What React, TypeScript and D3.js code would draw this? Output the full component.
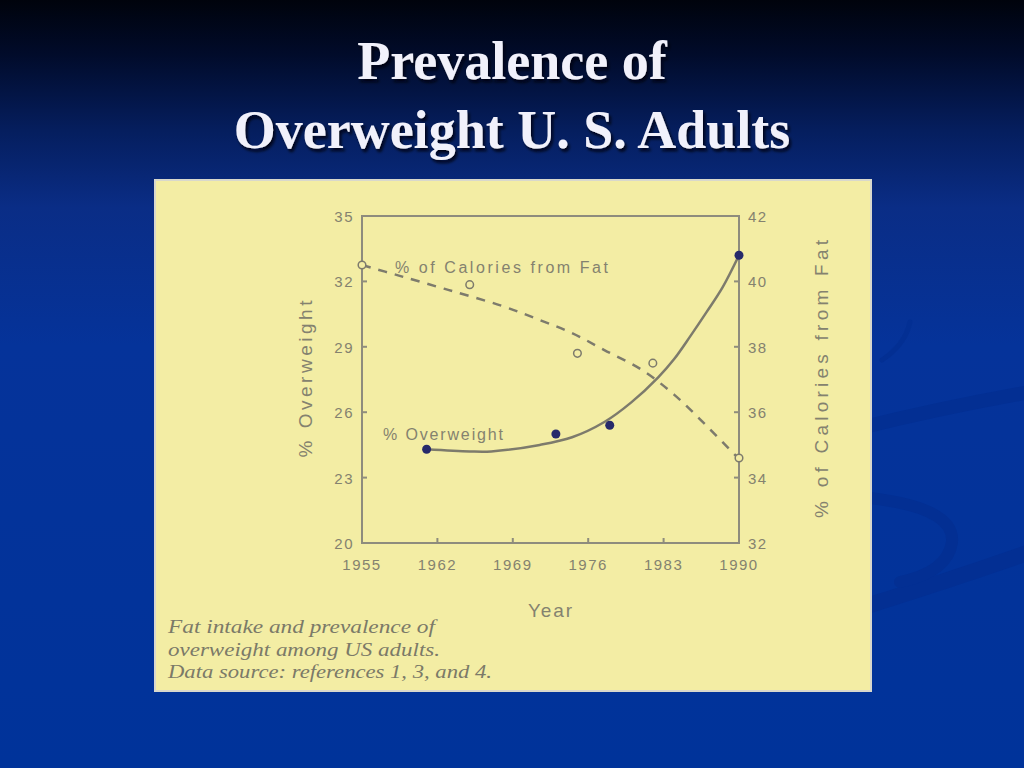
import * as d3 from 'd3';

// % overweight (filled dots, left axis)
const overweightYears = [1961, 1973, 1978, 1990];
const overweightPct = [24.3, 25.0, 25.4, 33.2];

// % of calories from fat (open circles, right axis)
const fatYears = [1955, 1965, 1975, 1982, 1990];
const fatPct = [40.5, 39.9, 37.8, 37.5, 34.6];

// smooth fitted curves
const overweightFitYears = [1961, 1965, 1967, 1971.5, 1974.5, 1977.5, 1980, 1982.5, 1984, 1985.5, 1987, 1988.5, 1990];
const overweightFitPct = [24.3, 24.2, 24.2, 24.5, 24.85, 25.55, 26.45, 27.6, 28.45, 29.5, 30.6, 31.75, 33.2];
const fatFitYears = [1955, 1958.5, 1963, 1968, 1971.5, 1974.5, 1977.5, 1981, 1984, 1987, 1990];
const fatFitPct = [40.5, 40.17, 39.74, 39.25, 38.82, 38.42, 37.9, 37.29, 36.53, 35.58, 34.57];

// ticks
const yearTicks = [1955, 1962, 1969, 1976, 1983, 1990];
const leftTicks = [20, 23, 26, 29, 32, 35];
const rightTicks = [32, 34, 36, 38, 40, 42];

const titleLines = ['Prevalence of', 'Overweight U. S. Adults'];
const captionLines = [
  'Fat intake and prevalence of',
  'overweight among US adults.',
  'Data source: references 1, 3, and 4.',
];

const INK = '#84826f';
const AXIS = '#8e8c7d';
const LINE = '#7d7b6c';
const DOT = '#262a6b';
const PAPER = '#f3eda4';
const SANS = 'Arial, "Liberation Sans", Helvetica, sans-serif';
const SERIF = '"Liberation Serif", "Times New Roman", serif';

export default function App() {
  const plot = { left: 362, right: 739, top: 216, bottom: 543 };

  const x = d3.scaleLinear().domain([1955, 1990]).range([plot.left, plot.right]);
  const yL = d3.scaleLinear().domain([20, 35]).range([plot.bottom, plot.top]);
  const yR = d3.scaleLinear().domain([32, 42]).range([plot.bottom, plot.top]);

  const owLine = d3
    .line<number>()
    .x((_, i) => x(overweightFitYears[i]))
    .y((d) => yL(d))
    .curve(d3.curveCatmullRom.alpha(0.5));
  const fatLine = d3
    .line<number>()
    .x((_, i) => x(fatFitYears[i]))
    .y((d) => yR(d))
    .curve(d3.curveCatmullRom.alpha(0.5));

  const tick = 5;

  return (
    <svg
      width={1024}
      height={768}
      style={{ position: 'absolute', left: 0, top: 0, display: 'block' }}
    >
      <defs>
        <linearGradient id="bg" x1="0" y1="0" x2="0" y2="1">
          <stop offset="0" stopColor="#00030c" />
          <stop offset="0.07" stopColor="#010b2a" />
          <stop offset="0.17" stopColor="#051e5e" />
          <stop offset="0.27" stopColor="#0a2d86" />
          <stop offset="0.45" stopColor="#05339a" />
          <stop offset="1" stopColor="#00339a" />
        </linearGradient>
        <filter id="shadow" x="-10%" y="-20%" width="130%" height="150%">
          <feDropShadow dx="2" dy="3" stdDeviation="1.5" floodColor="#000010" floodOpacity="0.9" />
        </filter>
      </defs>

      <rect width={1024} height={768} fill="url(#bg)" />

      {/* faint background swooshes */}
      <g fill="none" stroke="#032f93" strokeLinecap="round">
        <path d="M 860 428 Q 940 408 1030 392" strokeWidth={14} />
        <path d="M 860 608 Q 950 580 1030 552" strokeWidth={16} />
        <path d="M 870 498 Q 955 508 952 542 Q 948 572 900 582" strokeWidth={12} />
        <path d="M 882 360 Q 905 345 910 322" strokeWidth={5} />
      </g>

      {/* title */}
      <g
        fontFamily={SERIF}
        fontWeight="bold"
        fontSize={54}
        fill="#f1f1fb"
        textAnchor="middle"
        filter="url(#shadow)"
      >
        {titleLines.map((t, i) => (
          <text key={t} x={512} y={79 + i * 69}>
            {t}
          </text>
        ))}
      </g>

      {/* scanned figure panel */}
      <rect x={155} y={180} width={716} height={511} fill={PAPER} stroke="#d8d8cc" strokeWidth={2} />

      {/* plot frame */}
      <rect
        x={plot.left}
        y={plot.top}
        width={plot.right - plot.left}
        height={plot.bottom - plot.top}
        fill="none"
        stroke={AXIS}
        strokeWidth={2}
      />

      {/* ticks */}
      <g stroke={AXIS} strokeWidth={2}>
        {yearTicks.map((t) => (
          <line key={`xt${t}`} x1={x(t)} x2={x(t)} y1={plot.bottom} y2={plot.bottom - tick} />
        ))}
        {leftTicks.map((t) => (
          <line key={`lt${t}`} x1={plot.left} x2={plot.left + tick} y1={yL(t)} y2={yL(t)} />
        ))}
        {rightTicks.map((t) => (
          <line key={`rt${t}`} x1={plot.right} x2={plot.right - tick} y1={yR(t)} y2={yR(t)} />
        ))}
      </g>

      {/* tick labels */}
      <g fontFamily={SANS} fontSize={15} fill={INK} letterSpacing={1.5}>
        {yearTicks.map((t) => (
          <text key={`xl${t}`} x={x(t)} y={570} textAnchor="middle">
            {t}
          </text>
        ))}
        {leftTicks.map((t) => (
          <text key={`ll${t}`} x={plot.left - 8} y={yL(t) + 6} textAnchor="end">
            {t}
          </text>
        ))}
        {rightTicks.map((t) => (
          <text key={`rl${t}`} x={plot.right + 9} y={yR(t) + 6} textAnchor="start">
            {t}
          </text>
        ))}
      </g>

      {/* axis titles */}
      <g fontFamily={SANS} fill={INK} fontSize={19}>
        <text x={550} y={617} textAnchor="middle" textLength={44} lengthAdjust="spacing">
          Year
        </text>
        <text
          transform="translate(312,379) rotate(-90)"
          textAnchor="middle"
          textLength={157}
          lengthAdjust="spacing"
        >
          % Overweight
        </text>
        <text
          transform="translate(828,379) rotate(-90)"
          textAnchor="middle"
          textLength={278}
          lengthAdjust="spacing"
        >
          % of Calories from Fat
        </text>
      </g>

      {/* fitted curves */}
      <path
        d={fatLine(fatFitPct) ?? ''}
        fill="none"
        stroke={LINE}
        strokeWidth={2.5}
        strokeDasharray="9 8"
      />
      <path d={owLine(overweightFitPct) ?? ''} fill="none" stroke={LINE} strokeWidth={2.5} />

      {/* inline series labels */}
      <g fontFamily={SANS} fill={INK} fontSize={16}>
        <text x={395} y={273} textLength={213} lengthAdjust="spacing">
          % of Calories from Fat
        </text>
        <text x={383} y={440} textLength={120} lengthAdjust="spacing">
          % Overweight
        </text>
      </g>

      {/* observations */}
      {fatYears.map((yr, i) => (
        <circle
          key={`f${yr}`}
          cx={x(yr)}
          cy={yR(fatPct[i])}
          r={3.8}
          fill={PAPER}
          stroke={LINE}
          strokeWidth={1.5}
        />
      ))}
      {overweightYears.map((yr, i) => (
        <circle key={`o${yr}`} cx={x(yr)} cy={yL(overweightPct[i])} r={4.5} fill={DOT} />
      ))}

      {/* caption */}
      <g fontFamily={SERIF} fontStyle="italic" fontSize={18} fill="#7b7a68">
        {captionLines.map((t, i) => (
          <text
            key={t}
            x={168}
            y={633 + i * 22.5}
            textLength={[267, 272, 324][i]}
            lengthAdjust="spacingAndGlyphs"
          >
            {t}
          </text>
        ))}
      </g>
    </svg>
  );
}
